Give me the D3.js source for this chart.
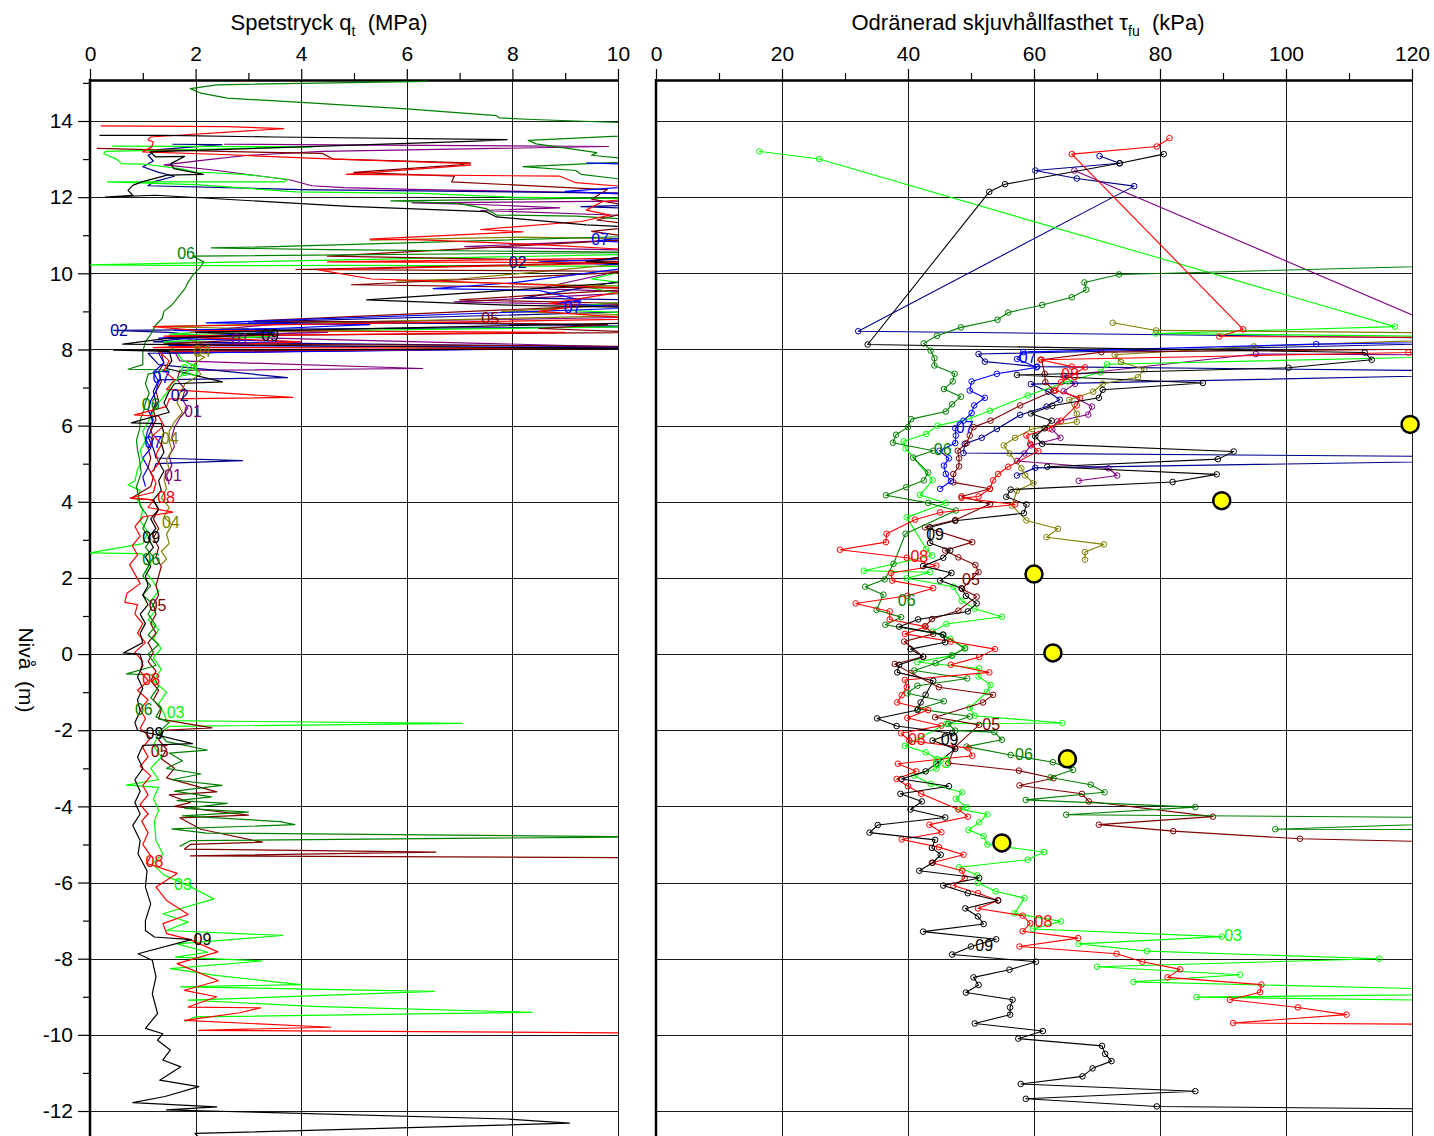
<!DOCTYPE html>
<html>
<head>
<meta charset="utf-8">
<script src="https://cdnjs.cloudflare.com/ajax/libs/d3/7.8.5/d3.min.js"></script>
<style>
  body { margin: 0; background: #fff; }
  svg { display: block; }
  text { font-family: "Liberation Sans", Arial, sans-serif; }
</style>
</head>
<body>
<svg id="chart" width="1434" height="1136"></svg>
<script>
// ---- Series colours (borrhål 01–09) ----
const seriesIds = ["01", "02", "03", "04", "05", "06", "07", "08", "09"];
const seriesColors = ["#800080", "#00008b", "#00ff00", "#808000", "#800000", "#008000", "#0000ff", "#ff0000", "#000000"];

// ---- Axis ticks ----
const qtMajorTicks = [0, 2, 4, 6, 8, 10];
const qtMinorTicks = [1, 3, 5, 7, 9];
const tauMajorTicks = [0, 20, 40, 60, 80, 100, 120];
const tauMinorTicks = [10, 30, 50, 70, 90, 110];
const levelMajorTicks = [14, 12, 10, 8, 6, 4, 2, 0, -2, -4, -6, -8, -10, -12];
const levelMinorTicks = [15, 13, 11, 9, 7, 5, 3, 1, -1, -3, -5, -7, -9, -11];

// ---- CPT: spetstryck qt [MPa] vs nivå [m] ----
const cpt01 = [[2.54,13.39],[9.82,13.33],[4.4,13.2],[3.0,13.1],[2.2,12.98],[1.4,12.85],[2.3,12.72],[3.8,12.45],[4.2,12.3],[4.8,12.25],[6.3,12.2],[10.3,12.1],[10.5,11.9],[6.1,11.85],[7.5,11.8],[8.9,11.72],[7.4,11.65],[10.5,11.5],[10.5,10.9],[7.1,10.7],[10.5,10.6],[10.5,10.2],[8.5,9.6],[10.5,9.5],[6.9,9.25],[10.5,9.15],[10.5,8.85],[3.8,8.7],[2.2,8.5],[4.5,8.45],[2.0,8.35],[10.6,8.05],[1.6,7.95],[1.7,7.7],[6.3,7.5],[1.7,7.45],[1.65,7.2],[1.8,6.95],[1.75,6.7],[1.85,6.45],[1.7,6.2],[1.6,5.95],[1.55,5.7],[1.6,5.45],[1.5,5.2],[1.55,4.95],[1.45,4.7],[1.5,4.45]];
const cpt02 = [[1.56,13.39],[2.5,13.38],[1.3,13.25],[1.1,13.1],[1.2,12.95],[1.0,12.8],[1.3,12.65],[1.6,12.55],[1.2,12.4],[1.1,12.3],[4.0,12.2],[10.5,12.1],[10.5,11.8],[9.3,11.75],[10.5,11.7],[10.5,10.5],[9.5,10.32],[10.5,10.25],[10.5,9.9],[8.2,9.35],[10.5,9.3],[10.5,9.0],[3.0,8.72],[7.3,8.68],[10.5,8.6],[0.45,8.5],[1.5,8.45],[2.2,8.35],[1.2,8.2],[10.6,8.06],[1.1,7.9],[1.3,7.6],[3.74,7.26],[1.3,7.2],[1.2,6.9],[1.25,6.6],[1.15,6.3],[1.2,6.0],[1.1,5.7],[1.2,5.4],[1.25,5.15],[2.89,5.08],[1.25,5.0],[1.2,4.8]];
const cpt03 = [[0.42,13.34],[4.23,13.32],[0.29,13.2],[0.26,13.14],[0.5,13.0],[0.6,12.88],[1.0,12.87],[1.7,12.75],[2.0,12.66],[2.9,12.6],[3.75,12.47],[3.67,12.4],[0.33,12.4],[2.0,12.33],[3.9,12.14],[6.3,12.1],[8.0,12.0],[10.5,11.95],[11,11.0],[10.3,10.5],[0.0,10.22],[2.5,10.2],[5.0,10.21],[10.5,10.18],[9.5,9.85],[10.4,9.7],[9.4,9.65],[10.5,9.3],[8.5,9.05],[10.5,8.95],[10.4,8.6],[2.0,8.45],[1.5,8.4],[3.5,8.35],[1.4,8.2],[1.6,8.0],[1.75,7.72],[2.0,7.55],[1.8,7.4],[1.55,7.1],[1.45,6.85],[1.3,6.6],[1.2,6.35],[1.1,6.1],[1.0,5.85],[1.05,5.6],[0.95,5.35],[1.0,5.1],[0.9,4.85],[0.85,4.55],[0.72,4.44],[0.95,4.3],[0.9,4.05],[1.0,3.8],[0.95,3.5],[1.1,3.2],[1.0,2.9],[0.0,2.66],[0.97,2.64],[1.15,2.4],[1.05,2.15],[1.2,1.9],[1.3,1.65],[1.15,1.4],[1.25,1.15],[1.1,0.9],[1.3,0.65],[1.2,0.4],[1.35,0.15],[1.2,-0.1],[1.35,-0.4],[1.2,-0.7],[1.45,-1.0],[1.3,-1.3],[1.4,-1.55],[1.45,-1.75],[7.05,-1.82],[1.5,-1.9],[1.3,-2.1],[1.2,-2.4],[1.35,-2.7],[1.15,-3.0],[1.3,-3.3],[0.69,-3.44],[1.3,-3.5],[1.2,-3.8],[1.3,-4.1],[1.22,-4.38],[1.25,-4.9],[1.38,-5.25],[1.18,-5.51],[1.4,-5.8],[1.92,-6.12],[2.35,-6.43],[1.38,-6.82],[1.86,-7.04],[1.45,-7.26],[3.65,-7.39],[1.65,-7.61],[2.23,-7.83],[1.62,-7.96],[3.26,-8.06],[1.52,-8.26],[2.38,-8.44],[4.0,-8.68],[1.72,-8.74],[6.52,-8.86],[1.86,-9.09],[4.22,-9.25],[8.37,-9.41],[1.99,-9.53],[1.8,-9.65]];
const cpt04 = [[5.3,10.87],[8.2,10.95],[10.5,10.9],[10.5,10.3],[7.0,9.85],[5.8,9.8],[9.0,9.7],[10.5,9.65],[10.5,9.2],[7.8,9.0],[10.5,8.9],[1.2,8.6],[3.0,8.55],[1.9,8.45],[3.5,8.38],[1.8,8.3],[2.2,8.1],[1.9,7.95],[2.17,7.8],[1.95,7.6],[2.1,7.35],[1.8,7.1],[1.7,6.85],[1.65,6.6],[1.75,6.35],[1.6,6.1],[1.5,5.85],[1.5,5.6],[1.55,5.35],[1.45,5.1],[1.5,4.85],[1.4,4.6],[1.45,4.35],[1.35,4.1],[1.5,3.85],[1.4,3.6],[1.55,3.4],[1.45,3.15],[1.5,2.9],[1.35,2.7],[1.45,2.5],[1.35,2.35]];
const cpt05 = [[0.13,13.28],[2.5,13.2],[4.4,13.15],[4.6,13.0],[7.2,12.9],[7.0,12.85],[5.0,12.65],[6.9,12.55],[6.85,12.4],[9.8,12.2],[9.5,11.95],[10.5,11.7],[9.6,11.4],[10.5,11.25],[9.5,11.1],[10.5,10.9],[4.5,10.45],[10.5,10.3],[3.9,10.1],[10.5,10.05],[4.95,9.7],[10.5,9.6],[7.0,9.3],[10.5,9.2],[3.1,8.75],[6.0,8.72],[9.8,8.65],[8.5,8.55],[10.5,8.45],[1.5,8.35],[3.0,8.25],[1.4,8.15],[10.5,8.08],[1.35,7.9],[1.4,7.65],[1.3,7.4],[1.35,7.15],[1.25,6.9],[1.3,6.65],[1.2,6.4],[1.25,6.15],[1.15,5.9],[1.2,5.65],[1.1,5.4],[1.15,5.15],[1.1,4.9],[1.2,4.65],[1.15,4.4],[0.78,4.09],[1.2,4.05],[1.3,3.8],[1.2,3.55],[1.3,3.3],[1.2,3.05],[1.3,2.8],[1.25,2.55],[1.35,2.3],[1.3,2.05],[1.25,1.8],[1.3,1.55],[1.2,1.3],[1.25,1.05],[1.15,0.8],[1.25,0.55],[1.1,0.3],[1.2,0.05],[1.1,-0.2],[1.25,-0.45],[1.15,-0.7],[1.3,-0.95],[1.2,-1.2],[1.35,-1.45],[1.3,-1.7],[2.31,-1.94],[1.4,-2.0],[1.3,-2.25],[1.45,-2.5],[1.35,-2.75],[1.6,-3.0],[1.45,-3.25],[2.4,-3.62],[1.5,-3.7],[1.9,-3.9],[1.6,-4.0],[3.0,-4.23],[1.7,-4.3],[2.1,-4.6],[3.27,-4.94],[1.9,-5.0],[1.79,-5.12],[6.55,-5.2],[1.9,-5.3],[10.5,-5.35]];
const cpt06 = [[6.4,15.04],[2.4,14.95],[1.9,14.85],[2.1,14.73],[2.6,14.6],[4.0,14.49],[6.0,14.32],[7.7,14.14],[7.75,14.08],[8.4,14.04],[10.2,13.95],[11.5,13.7],[8.3,13.49],[8.45,13.4],[9.6,13.17],[9.5,13.1],[10.6,12.95],[8.2,12.8],[9.2,12.7],[9.3,12.6],[10.5,12.4],[10.8,12.0],[5.7,11.9],[7.0,11.83],[7.5,11.7],[7.7,11.53],[9.2,11.5],[10.5,11.4],[11,11.0],[3.5,10.7],[2.3,10.67],[4.5,10.62],[10.5,10.55],[1.95,10.45],[2.15,10.3],[2.1,10.17],[1.95,9.96],[1.85,9.75],[1.8,9.6],[1.7,9.43],[1.6,9.25],[1.55,9.17],[1.4,9.0],[1.37,8.82],[1.25,8.65],[1.15,8.4],[1.05,8.2],[1.0,7.95],[1.0,7.6],[0.72,7.48],[1.5,7.46],[1.1,7.35],[1.05,7.1],[1.12,6.85],[1.05,6.6],[1.02,6.4],[0.95,6.15],[0.94,5.9],[0.88,5.62],[0.9,5.36],[0.94,5.1],[0.97,4.75],[0.88,4.4],[0.92,4.15],[0.95,3.9],[1.1,3.6],[1.0,3.3],[1.15,3.0],[1.05,2.8],[1.2,2.55],[1.1,2.3],[1.0,2.05],[1.15,1.8],[1.0,1.55],[1.2,1.3],[1.1,1.05],[1.25,0.75],[1.1,0.5],[1.3,0.25],[1.1,0.0],[1.25,-0.3],[0.69,-0.52],[1.2,-0.55],[1.3,-0.85],[1.15,-1.15],[1.35,-1.4],[1.25,-1.65],[1.5,-1.8],[1.3,-2.05],[1.45,-2.3],[2.22,-2.52],[1.5,-2.6],[1.75,-2.8],[1.45,-3.0],[2.1,-3.15],[1.55,-3.3],[2.5,-3.45],[1.6,-3.6],[2.3,-3.75],[1.65,-3.85],[2.6,-3.92],[1.8,-4.05],[3.0,-4.15],[1.75,-4.25],[3.6,-4.4],[3.88,-4.48],[1.55,-4.59],[2.2,-4.7],[10.5,-4.8],[1.9,-4.9],[1.7,-5.05]];
const cpt07 = [[9.4,12.9],[10.5,12.85],[10.5,12.3],[9.0,12.15],[10.5,12.05],[10.5,11.0],[9.6,10.85],[10.5,10.8],[10.5,10.4],[8.5,10.3],[10.5,10.2],[8.0,9.75],[6.5,9.6],[8.5,9.55],[9.3,9.3],[8.8,9.2],[10.5,9.1],[2.2,8.7],[5.3,8.65],[3.5,8.55],[1.6,8.5],[3.5,8.45],[1.3,8.3],[4.0,8.2],[1.5,8.1],[10.6,8.05],[1.3,7.9],[1.4,7.65],[1.2,7.4],[1.3,7.15],[1.25,6.9],[1.15,6.65],[1.1,6.4],[1.2,6.15],[1.1,5.9],[1.05,5.65],[1.15,5.4],[1.0,5.15],[1.1,4.9],[1.0,4.65],[1.05,4.4]];
const cpt08 = [[0.2,13.87],[2.6,13.85],[3.67,13.8],[1.14,13.58],[1.1,13.5],[1.2,13.45],[1.17,13.32],[1.0,13.19],[2.5,13.12],[4.4,13.01],[7.2,12.88],[7.2,12.84],[4.85,12.6],[8.9,12.55],[9.2,12.38],[10.4,12.25],[10.5,12.0],[9.7,11.88],[9.4,11.66],[9.85,11.53],[9.3,11.36],[7.4,11.15],[8.2,11.09],[5.3,10.9],[6.3,10.88],[8.7,10.74],[10.5,10.6],[10.5,10.4],[4.5,10.3],[10.5,10.28],[4.33,10.09],[5.33,9.85],[6.5,9.8],[10.5,9.6],[8.7,9.21],[9.3,9.15],[8.5,9.0],[10.5,8.8],[1.2,8.6],[2.0,8.5],[9.0,8.45],[1.4,8.35],[4.0,8.2],[1.2,8.05],[10.6,8.03],[1.3,7.95],[1.5,7.7],[1.4,7.45],[1.6,7.2],[1.45,6.95],[3.84,6.74],[1.5,6.7],[1.45,6.5],[0.84,6.28],[1.3,6.25],[1.4,6.0],[1.2,5.75],[1.35,5.5],[1.25,5.25],[1.3,5.0],[1.15,4.75],[1.25,4.5],[1.2,4.25],[0.76,4.1],[1.2,4.05],[1.1,3.85],[1.57,3.73],[1.0,3.6],[0.85,3.35],[0.95,3.1],[0.8,2.85],[0.9,2.6],[0.75,2.35],[0.85,2.1],[0.95,1.85],[0.7,1.6],[0.66,1.36],[0.9,1.3],[0.85,1.05],[1.0,0.8],[0.9,0.55],[1.05,0.3],[0.85,0.05],[1.0,-0.2],[0.95,-0.45],[1.1,-0.7],[0.9,-0.95],[1.1,-1.2],[0.95,-1.45],[1.05,-1.7],[0.95,-1.95],[1.15,-2.2],[1.0,-2.45],[1.1,-2.7],[0.95,-2.95],[1.15,-3.2],[1.0,-3.45],[1.1,-3.7],[0.95,-3.95],[1.1,-4.2],[0.98,-4.38],[1.1,-4.7],[1.0,-5.0],[1.15,-5.3],[1.08,-5.5],[1.65,-5.76],[1.25,-6.12],[1.45,-6.47],[1.86,-6.84],[1.38,-7.08],[1.45,-7.34],[1.9,-7.5],[2.42,-7.82],[1.65,-8.13],[2.43,-8.58],[1.79,-8.83],[2.4,-9.0],[1.86,-9.27],[3.23,-9.29],[2.84,-9.42],[1.79,-9.62],[4.56,-9.8],[2.06,-9.88],[10.5,-9.95]];
const cpt09 = [[0.18,13.62],[1.43,13.62],[3.5,13.58],[7.9,13.51],[7.32,13.47],[1.14,13.19],[1.24,13.06],[1.79,13.07],[1.53,12.88],[1.59,12.75],[2.15,12.6],[1.46,12.58],[0.98,12.4],[0.81,12.31],[0.72,12.18],[0.81,12.05],[0.29,12.0],[1.24,12.05],[4.9,11.76],[7.5,11.62],[7.7,11.48],[9.4,11.27],[10.5,11.2],[10.5,10.5],[9.4,10.31],[10.5,10.2],[10.5,9.8],[5.24,9.3],[7.77,9.17],[10.5,9.1],[10.5,8.7],[2.0,8.45],[3.5,8.4],[1.5,8.3],[0.62,8.14],[10.6,8.02],[0.45,7.98],[1.5,7.95],[1.55,7.7],[1.45,7.5],[2.51,7.15],[1.6,7.1],[1.5,6.9],[1.4,6.6],[1.5,6.35],[0.78,6.07],[1.35,6.05],[1.4,5.8],[1.35,5.55],[1.4,5.3],[1.3,5.05],[1.4,4.8],[1.3,4.55],[1.35,4.3],[1.2,4.05],[1.3,3.8],[1.15,3.55],[1.25,3.3],[1.1,3.05],[1.2,2.8],[1.05,2.55],[1.15,2.3],[1.05,2.05],[1.1,1.8],[1.0,1.55],[1.1,1.3],[0.95,1.05],[1.05,0.8],[0.95,0.55],[1.0,0.3],[0.63,0.03],[0.95,0.0],[1.0,-0.3],[0.9,-0.6],[1.0,-0.9],[0.9,-1.2],[0.95,-1.5],[0.85,-1.8],[0.9,-2.0],[1.94,-2.35],[1.0,-2.4],[0.9,-2.7],[1.0,-3.0],[0.85,-3.3],[0.95,-3.6],[0.85,-3.9],[0.95,-4.2],[0.81,-4.5],[0.95,-4.9],[0.91,-5.25],[1.08,-5.69],[1.05,-6.12],[1.15,-6.56],[1.05,-7.0],[1.05,-7.26],[1.22,-7.43],[1.92,-7.5],[0.91,-7.87],[1.18,-8.04],[1.25,-8.48],[1.18,-8.92],[1.28,-9.44],[1.05,-9.83],[1.38,-9.97],[1.28,-10.14],[1.52,-10.4],[1.38,-10.66],[1.72,-10.84],[1.32,-11.19],[2.06,-11.36],[1.42,-11.62],[0.81,-11.78],[2.4,-11.89],[1.45,-11.97],[7.9,-12.21],[9.08,-12.32],[1.99,-12.59],[2.2,-12.9]];
const cptSeries = [cpt01, cpt02, cpt03, cpt04, cpt05, cpt06, cpt07, cpt08, cpt09];

// ---- Odränerad skjuvhållfasthet tau_fu [kPa] vs nivå [m] ----
const tau01 = [[66.4,12.7],[135,7.85],[95.2,7.88],[64.7,7.31],[66.5,7.1],[64.7,6.9],[69.2,6.5],[68.6,6.29],[63.7,6.11],[62.9,5.9],[64.2,5.68],[59.5,5.48],[58.5,5.27],[57.3,5.07],[71.8,4.88],[73.2,4.69],[67.1,4.55]];
const tau02 = [[70.4,13.08],[73.6,12.89],[60.2,12.7],[66.8,12.49],[75.9,12.29],[32.1,8.48],[150,8.25],[51.2,7.88],[52.2,7.68],[60.5,7.55],[150,7.4],[59.5,7.09],[62.3,6.89],[64.1,6.68],[62.0,6.5],[57.8,6.28],[54.1,5.91],[51.7,5.68],[49.0,5.52],[48.8,5.28],[160,5.15],[60.2,4.89],[57.3,4.69]];
const tau03 = [[16.4,13.2],[25.9,13.0],[117.3,8.6],[79.3,8.42],[150,8.3],[150,7.9],[71.6,7.61],[70.5,7.4],[65.3,7.16],[59.0,6.79],[53.0,6.39],[49.7,6.18],[44.7,6.0],[42.9,5.78],[39.3,5.59],[39.6,5.4],[43.9,4.57],[41.9,4.18],[46.0,3.97],[39.8,3.59],[42.9,2.76],[43.8,2.59],[33.0,2.19],[43.5,2.15],[39.8,1.99],[47.2,1.77],[48.5,1.4],[50.6,1.19],[54.9,0.98],[46.1,0.79],[43.9,0.59],[46.7,0.4],[49.1,0.16],[46.9,-0.04],[41.5,-0.21],[51.3,-0.38],[51.2,-0.59],[53.1,-0.81],[52.5,-1.0],[49.8,-1.41],[50.6,-1.62],[64.5,-1.81],[46.1,-1.83],[39.5,-2.41],[42.8,-2.58],[45.2,-2.8],[44.5,-3.01],[41.0,-3.19],[43.6,-3.41],[48.6,-3.63],[47.6,-3.8],[49.3,-4.02],[48.1,-4.07],[52.6,-4.21],[51.3,-4.42],[49.6,-4.62],[52.0,-4.78],[52.6,-5.0],[61.6,-5.2],[59.0,-5.4],[48.1,-5.6],[51.0,-5.81],[51.1,-6.01],[53.9,-6.23],[58.5,-6.41],[56.9,-6.81],[64.3,-7.02],[59.8,-7.22],[89.8,-7.42],[67.1,-7.61],[77.9,-7.8],[114.8,-8.0],[70.0,-8.21],[92.7,-8.42],[75.8,-8.61],[150,-8.9],[85.8,-9.01],[150,-9.15]];
const tau04 = [[72.5,8.7],[79.4,8.5],[150,8.4],[94.9,8.08],[72.8,7.86],[73.8,7.67],[77.5,7.48],[76.5,7.27],[70.9,7.1],[69.4,6.89],[65.6,6.68],[66.8,6.31],[66.8,6.1],[59.7,5.91],[57.0,5.68],[55.2,5.48],[56.1,5.27],[58.0,4.88],[58.6,4.69],[59.9,4.49],[57.3,4.29],[56.5,3.9],[58.8,3.51],[63.8,3.29],[62.0,3.07],[71.1,2.88],[68.1,2.68],[68.1,2.48]];
const tau05 = [[150,8.05],[70.7,7.93],[61.2,7.73],[61.7,7.36],[61.8,7.14],[63.2,6.92],[57.8,6.53],[53.1,6.13],[50.4,5.96],[49.8,5.74],[49.3,5.54],[47.9,5.34],[48.1,5.14],[48.1,4.93],[47.2,4.73],[47.2,4.51],[53.0,4.34],[48.5,4.14],[53.0,3.94],[47.5,3.52],[42.7,3.33],[50.2,2.94],[45.9,2.72],[48.0,2.54],[50.7,2.34],[51.2,2.15],[48.6,1.71],[50.9,1.51],[48.0,1.14],[43.8,0.92],[42.7,0.73],[44.0,0.53],[39.4,0.33],[42.4,-0.07],[37.9,-0.26],[40.5,-0.5],[44.9,-0.87],[53.5,-1.07],[51.9,-1.27],[44.3,-1.66],[51.3,-1.86],[47.4,-2.45],[46.4,-2.86],[57.6,-3.06],[63.1,-3.26],[57.7,-3.45],[67.6,-3.67],[68.7,-3.87],[88.4,-4.27],[70.3,-4.48],[82.1,-4.65],[102.2,-4.85],[150,-5.03]];
const tau06 = [[150,10.3],[73.5,9.97],[68.0,9.76],[68.3,9.57],[66.0,9.37],[61.3,9.17],[55.9,8.97],[54.2,8.78],[48.4,8.58],[44.6,8.36],[42.5,8.16],[43.6,7.97],[44.2,7.77],[44.2,7.58],[47.4,7.36],[47.1,7.16],[45.7,6.96],[48.4,6.76],[47.0,6.56],[46.0,6.37],[40.5,6.17],[40.0,5.96],[38.1,5.76],[37.6,5.55],[44.0,5.34],[40.8,5.16],[43.2,4.77],[42.5,4.56],[39.7,4.38],[36.5,4.17],[43.2,3.97],[47.6,3.77],[39.6,3.16],[37.7,2.37],[36.3,1.96],[33.2,1.77],[36.1,1.56],[35.0,1.16],[38.9,0.97],[36.4,0.77],[45.5,0.51],[49.0,0.15],[47.0,-0.04],[44.4,-0.24],[41.0,-0.43],[49.4,-0.64],[41.5,-0.83],[39.9,-1.03],[45.7,-1.24],[41.6,-1.44],[49.8,-1.64],[46.4,-1.83],[47.5,-2.01],[53.7,-2.05],[54.9,-2.25],[49.3,-2.43],[56.3,-2.65],[63.0,-2.84],[66.2,-3.04],[62.6,-3.24],[69.0,-3.43],[71.2,-3.63],[58.7,-3.83],[85.6,-4.02],[65.1,-4.22],[150,-4.32],[98.3,-4.6],[150,-4.62]];
const tau07 = [[150,8.25],[104.8,8.14],[58.3,7.93],[57.3,7.75],[60.4,7.53],[54.1,7.36],[50.1,7.16],[49.8,6.92],[52.2,6.73],[50.5,6.53],[50.1,6.33],[48.8,6.13],[47.5,5.93],[47.6,5.74],[47.5,5.54],[45.0,5.34],[46.5,5.14],[45.7,4.95],[46.0,4.73],[46.8,4.54],[45.1,4.34]];
const tau08 = [[81.5,13.55],[79.5,13.33],[66.0,13.13],[93.2,8.53],[89.4,8.34],[150,8.3],[119.4,7.92],[61.0,7.73],[66.0,7.55],[68.1,7.53],[64.3,7.14],[63.4,6.92],[67.3,6.73],[66.8,6.53],[64.3,6.13],[62.4,5.93],[58.8,5.74],[59.4,5.52],[60.7,5.33],[55.9,4.92],[54.3,4.73],[53.5,4.56],[53.0,4.34],[51.2,4.14],[48.5,4.1],[57.0,3.93],[45.1,3.72],[41.1,3.53],[36.6,3.16],[36.5,2.94],[29.2,2.74],[39.8,2.53],[44.5,2.32],[37.3,2.13],[37.5,1.93],[44.0,1.73],[39.9,1.53],[31.7,1.33],[37.1,1.12],[37.1,0.91],[42.8,0.72],[39.5,0.53],[46.8,0.33],[53.8,0.13],[51.3,-0.08],[46.8,-0.28],[52.9,-0.48],[39.5,-0.68],[39.8,-0.87],[39.0,-1.08],[38.3,-1.27],[43.2,-1.47],[39.9,-1.68],[45.3,-1.88],[38.9,-2.08],[40.2,-2.27],[49.6,-2.47],[50.2,-2.67],[38.4,-2.88],[41.3,-3.08],[38.2,-3.28],[40.0,-3.47],[42.1,-3.67],[48.0,-4.08],[49.5,-4.27],[43.4,-4.48],[45.3,-4.68],[39.0,-4.87],[44.9,-5.07],[48.8,-5.27],[43.8,-5.48],[48.6,-5.69],[49.0,-5.88],[47.2,-6.08],[51.1,-6.28],[54.3,-6.47],[51.1,-6.68],[58.2,-6.87],[59.4,-7.07],[58.2,-7.28],[67.0,-7.46],[57.7,-7.68],[73.1,-7.87],[77.2,-8.08],[83.2,-8.28],[81.2,-8.49],[96.1,-8.68],[95.9,-8.88],[91.1,-9.08],[101.9,-9.28],[109.6,-9.47],[91.6,-9.69],[150,-9.75]];
const tau09 = [[80.6,13.13],[73.6,12.89],[55.4,12.34],[52.9,12.14],[33.6,8.13],[112.5,7.92],[113.6,7.73],[100.4,7.52],[57.3,7.33],[86.8,7.12],[70.9,6.94],[70.3,6.73],[62.9,6.52],[59.5,6.32],[62.8,6.13],[61.7,5.93],[60.2,5.72],[61.3,5.52],[91.7,5.32],[89.2,5.12],[62.1,4.92],[89.0,4.72],[82.0,4.52],[56.3,4.32],[55.6,4.13],[58.8,3.93],[58.4,3.7],[47.5,3.5],[43.5,3.33],[43.5,2.92],[46.7,2.72],[45.6,2.53],[42.4,2.31],[46.9,2.13],[45.1,1.93],[48.5,1.73],[49.2,1.53],[50.9,1.33],[49.5,1.12],[41.6,0.91],[38.6,0.72],[45.6,0.51],[45.9,0.31],[40.4,0.13],[42.4,-0.07],[38.6,-0.28],[38.3,-0.48],[44.0,-0.7],[42.8,-1.07],[42.0,-1.27],[41.5,-1.47],[35.1,-1.69],[38.2,-1.89],[47.0,-2.08],[43.9,-2.27],[47.5,-2.49],[44.5,-2.88],[42.8,-3.08],[39.0,-3.28],[46.5,-3.47],[38.8,-3.67],[42.2,-3.87],[40.4,-4.08],[45.9,-4.29],[35.2,-4.49],[33.9,-4.69],[44.3,-4.88],[43.8,-5.09],[45.2,-5.27],[43.9,-5.48],[41.8,-5.69],[51.3,-5.88],[45.6,-6.08],[49.5,-6.28],[54.3,-6.47],[49.1,-6.68],[51.1,-6.89],[52.0,-7.09],[42.4,-7.29],[54.0,-7.49],[50.0,-7.68],[47.0,-7.89],[60.3,-8.08],[56.1,-8.29],[50.4,-8.49],[51.2,-8.69],[49.2,-8.89],[56.6,-9.08],[56.2,-9.28],[56.2,-9.47],[50.6,-9.7],[61.4,-9.9],[57.5,-10.1],[70.8,-10.29],[71.3,-10.5],[72.3,-10.69],[69.3,-10.88],[67.7,-11.09],[57.9,-11.29],[85.6,-11.48],[58.7,-11.68],[79.5,-11.88],[160,-12.0]];
const tauSeries = [tau01, tau02, tau03, tau04, tau05, tau06, tau07, tau08, tau09];

// Separate laboratory strength values (large yellow markers)
const labStrength = [[119.7,6.03],[89.8,4.03],[60.0,2.1],[63.0,0.03],[65.3,-2.75],[54.9,-4.96]];

// Borehole tags written along the curves: [series index, value, level]
const cptTags = [[5,1.82,10.49],[6,9.66,10.86],[1,8.1,10.26],[6,9.14,9.08],[4,7.58,8.77],[1,0.55,8.47],[0,2.85,8.22],[8,3.41,8.34],[3,2.12,7.92],[2,1.88,7.42],[6,1.35,7.22],[0,1.95,6.35],[5,1.15,6.51],[1,1.7,6.75],[3,1.51,5.62],[6,1.2,5.53],[0,1.57,4.66],[7,1.44,4.07],[3,1.53,3.41],[8,1.16,3.02],[5,1.16,2.45],[4,1.28,1.25],[7,1.16,-0.69],[5,1.02,-1.48],[2,1.62,-1.56],[8,1.22,-2.12],[4,1.32,-2.6],[7,1.22,-5.47],[2,1.76,-6.08],[8,2.13,-7.52]];
const tauTags = [[6,59.0,7.75],[7,65.7,7.31],[6,49.0,5.91],[5,45.5,5.34],[8,44.3,3.11],[7,41.8,2.53],[4,50.0,1.93],[5,39.8,1.38],[4,53.2,-1.88],[7,41.4,-2.27],[8,46.6,-2.27],[2,45.3,-2.88],[5,58.4,-2.67],[7,61.5,-7.07],[2,91.6,-7.42],[8,52.1,-7.7]];

// ---- Layout ----
const svg = d3.select("#chart");
const plotTop = 80, plotBottom = 1136;
const y = d3.scaleLinear().domain([14, -12]).range([121, 1111]);
const xL = d3.scaleLinear().domain([0, 10]).range([90, 618]);
const xR = d3.scaleLinear().domain([0, 120]).range([656, 1412]);
const fmt = d => String(d);

function drawFrame(x, majors, minors, clipId) {
  const [x0, x1] = x.range();
  svg.append("clipPath").attr("id", clipId)
    .append("rect").attr("x", x0).attr("y", plotTop).attr("width", x1 - x0).attr("height", plotBottom - plotTop);

  const grid = svg.append("g").attr("stroke", "#1a1a1a").attr("stroke-width", 1).attr("shape-rendering", "crispEdges");
  grid.selectAll(".vg").data(majors.filter(v => v !== majors[0])).join("line")
    .attr("x1", d => Math.round(x(d)) + 0.5).attr("x2", d => Math.round(x(d)) + 0.5)
    .attr("y1", plotTop).attr("y2", plotBottom);
  grid.selectAll(".hg").data(levelMajorTicks).join("line")
    .attr("x1", x0).attr("x2", x1)
    .attr("y1", d => Math.round(y(d)) + 0.5).attr("y2", d => Math.round(y(d)) + 0.5);

  const axMinor = svg.append("g").attr("transform", `translate(0,${plotTop})`)
    .call(d3.axisTop(x).tickValues(minors).tickSize(7).tickSizeOuter(0).tickFormat(""));
  axMinor.select(".domain").remove();
  const ax = svg.append("g").attr("transform", `translate(0,${plotTop})`)
    .call(d3.axisTop(x).tickValues(majors).tickSize(11).tickSizeOuter(0).tickPadding(8).tickFormat(fmt));
  ax.select(".domain").attr("stroke-width", 2.5);
  ax.selectAll("text").attr("font-size", 21).attr("fill", "#000");
  svg.selectAll(".tick line").attr("stroke", "#000").attr("stroke-width", 1.2);

  svg.append("line").attr("x1", x0).attr("x2", x0).attr("y1", plotTop - 1).attr("y2", plotBottom)
    .attr("stroke", "#000").attr("stroke-width", 2.5);
}

drawFrame(xL, qtMajorTicks, qtMinorTicks, "clipL");
drawFrame(xR, tauMajorTicks, tauMinorTicks, "clipR");

// Level axis (left panel)
const yMinor = svg.append("g").attr("transform", "translate(90,0)")
  .call(d3.axisLeft(y).tickValues(levelMinorTicks).tickSize(7).tickFormat(""));
yMinor.select(".domain").remove();
const yAx = svg.append("g").attr("transform", "translate(90,0)")
  .call(d3.axisLeft(y).tickValues(levelMajorTicks).tickSize(12).tickPadding(5).tickFormat(fmt));
yAx.select(".domain").remove();
yAx.selectAll("text").attr("font-size", 21).attr("fill", "#000");
svg.selectAll(".tick line").attr("stroke", "#000").attr("stroke-width", 1.2);

// Titles
const tL = svg.append("text").attr("x", 329).attr("y", 30).attr("text-anchor", "middle").attr("font-size", 22);
tL.append("tspan").text("Spetstryck q");
tL.append("tspan").attr("dy", 6).attr("font-size", 14).text("t");
tL.append("tspan").attr("dy", -6).text("\u00a0 (MPa)");

const tR = svg.append("text").attr("x", 1028).attr("y", 30).attr("text-anchor", "middle").attr("font-size", 22);
tR.append("tspan").text("Odränerad skjuvhållfasthet τ");
tR.append("tspan").attr("dy", 6).attr("font-size", 14).text("fu");
tR.append("tspan").attr("dy", -6).text("\u00a0 (kPa)");

svg.append("text").attr("transform", "translate(19,670) rotate(90)")
  .attr("text-anchor", "middle").attr("font-size", 21).text("Nivå\u00a0 (m)");

// CPT curves
const lineL = d3.line().x(d => xL(d[0])).y(d => y(d[1]));
const gL = svg.append("g").attr("clip-path", "url(#clipL)");
cptSeries.forEach((s, i) => {
  gL.append("path").datum(s).attr("d", lineL)
    .attr("fill", "none").attr("stroke", seriesColors[i]).attr("stroke-width", 1.2).attr("stroke-linejoin", "round");
});
gL.selectAll(".tag").data(cptTags).join("text")
  .attr("x", d => xL(d[1])).attr("y", d => y(d[2]))
  .attr("text-anchor", "middle").attr("dominant-baseline", "middle")
  .attr("font-size", 16).attr("fill", d => seriesColors[d[0]])
  .text(d => seriesIds[d[0]]);

// Shear strength curves with point markers
const lineR = d3.line().x(d => xR(d[0])).y(d => y(d[1]));
const gR = svg.append("g").attr("clip-path", "url(#clipR)");
tauSeries.forEach((s, i) => {
  gR.append("path").datum(s).attr("d", lineR)
    .attr("fill", "none").attr("stroke", seriesColors[i]).attr("stroke-width", 1.1).attr("stroke-linejoin", "round");
  gR.append("g").selectAll("circle").data(s).join("circle")
    .attr("cx", d => xR(d[0])).attr("cy", d => y(d[1])).attr("r", 2.8)
    .attr("fill", "none").attr("stroke", seriesColors[i]).attr("stroke-width", 1);
});
gR.selectAll(".tag").data(tauTags).join("text")
  .attr("x", d => xR(d[1])).attr("y", d => y(d[2]))
  .attr("text-anchor", "middle").attr("dominant-baseline", "middle")
  .attr("font-size", 16).attr("fill", d => seriesColors[d[0]])
  .text(d => seriesIds[d[0]]);

// Laboratory values
svg.append("g").selectAll("circle").data(labStrength).join("circle")
  .attr("cx", d => xR(d[0])).attr("cy", d => y(d[1])).attr("r", 8.5)
  .attr("fill", "#ffff00").attr("stroke", "#000").attr("stroke-width", 2.5);
</script>
</body>
</html>
